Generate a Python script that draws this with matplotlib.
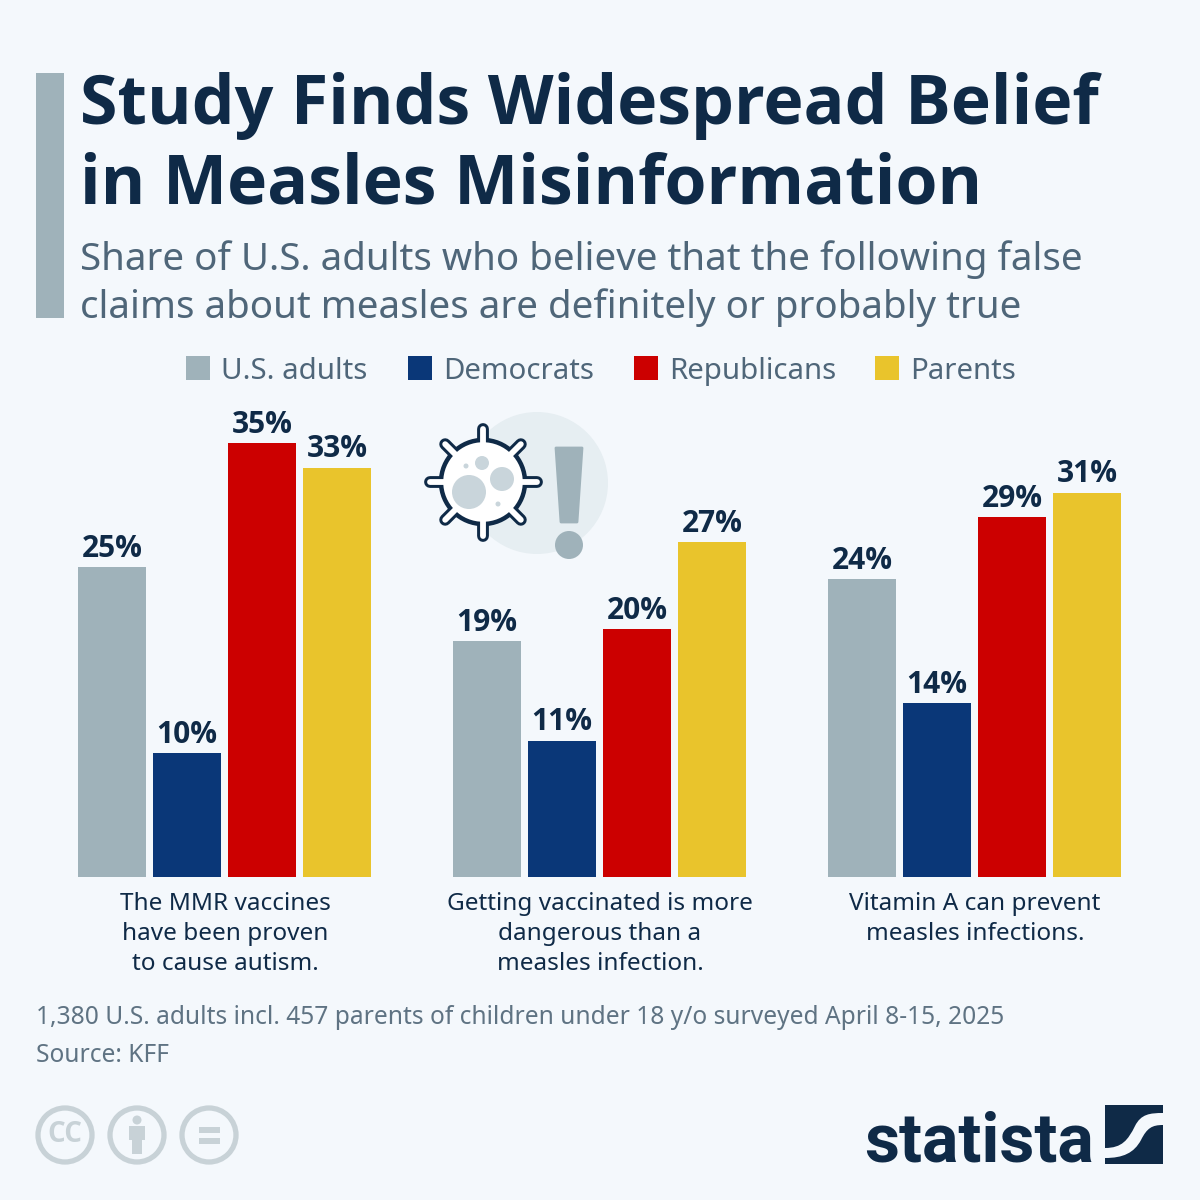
import numpy as np
import matplotlib
matplotlib.use('Agg')
import matplotlib.pyplot as plt
from matplotlib.patches import Circle, Rectangle, Polygon, PathPatch
from matplotlib.path import Path

plt.rcParams['font.family'] = ['Noto Sans', 'DejaVu Sans']

claims = ['The MMR vaccines\nhave been proven\nto cause autism.',
          'Getting vaccinated is more\ndangerous than a\nmeasles infection.',
          'Vitamin A can prevent\nmeasles infections.']
groups = ['U.S. adults', 'Democrats', 'Republicans', 'Parents']
us_adults = [25, 19, 24]
democrats = [10, 11, 14]
republicans = [35, 20, 29]
parents = [33, 27, 31]

BG = '#f4f8fc'
DARK = '#0f2a47'
SUB = '#4f6679'
NOTE = '#5f7383'
GREY = '#9fb2ba'
colors = [GREY, '#0a3778', '#cc0000', '#e9c42c']
BOLD = ['Open Sans', 'DejaVu Sans']

fig = plt.figure(figsize=(12, 12), dpi=100, facecolor=BG)

# pixel overlay for everything around the chart
bg = fig.add_axes([0, 0, 1, 1])
bg.set_xlim(0, 1200)
bg.set_ylim(1200, 0)
bg.axis('off')

bg.add_patch(Rectangle((36, 73), 28, 245, color=GREY, lw=0))
bg.text(80, 124, 'Study Finds Widespread Belief', fontsize=49, fontweight='bold', family=BOLD, color=DARK, va='baseline')
bg.text(80, 203, 'in Measles Misinformation', fontsize=49, fontweight='bold', family=BOLD, color=DARK, va='baseline')
bg.text(80, 270, 'Share of U.S. adults who believe that the following false', fontsize=27.7, color=SUB, va='baseline')
bg.text(80, 318, 'claims about measles are definitely or probably true', fontsize=27.7, color=SUB, va='baseline')

# legend
for name, col, x in zip(groups, colors, [186, 408, 634, 875]):
    bg.add_patch(Rectangle((x, 356), 24, 24, color=col, lw=0))
    bg.text(x + 35, 379, name, fontsize=21.2, color=SUB, va='baseline')

# virus icon
bg.add_patch(Circle((537, 483), 71, color='#e6eef2', lw=0))
cx, cy = 483, 482
for a in np.arange(0, 360, 45):
    dx, dy = np.cos(np.radians(a)), np.sin(np.radians(a))
    bg.plot([cx + 30 * dx, cx + 53.5 * dx], [cy + 30 * dy, cy + 53.5 * dy], color=DARK, lw=8.5,
            solid_capstyle='round', zorder=3)
bg.add_patch(Circle((cx, cy), 42, fc='white', ec=DARK, lw=3.2, zorder=4))
for a in np.arange(0, 360, 45):
    dx, dy = np.cos(np.radians(a)), np.sin(np.radians(a))
    bg.plot([cx + 30 * dx, cx + 53.5 * dx], [cy + 30 * dy, cy + 53.5 * dy], color='white', lw=4.2,
            solid_capstyle='round', zorder=5)
for x, y, r in [(469, 492, 17), (502, 479, 12), (482, 463, 7), (466, 466, 2.5), (498, 504, 2.5)]:
    bg.add_patch(Circle((x, y), r, color='#c9d5db', lw=0, zorder=6))
bg.add_patch(Polygon([(556, 448), (582, 448), (577, 522), (561, 522)], closed=True, fc=GREY, ec=GREY, lw=2, joinstyle='round'))
bg.add_patch(Circle((569, 545), 14, color=GREY, lw=0))

# bars
ax = fig.add_axes([0, (1200 - 877) / 1200, 1, 477 / 1200], facecolor='none')
ax.set_xlim(0, 1200)
ax.set_ylim(0, 477 / 12.4)
ax.axis('off')
x0 = np.array([112, 487, 862])
for i, (vals, col) in enumerate(zip([us_adults, democrats, republicans, parents], colors)):
    xs = x0 + i * 75
    ax.bar(xs, vals, width=68, color=col, lw=0)
    for x, v in zip(xs, vals):
        ax.annotate(f'{v}%', (x, v), xytext=(0, 2.5), textcoords='offset points', ha='center', va='bottom',
                    fontsize=21.5, fontweight='bold', family=BOLD, color=DARK)

for x, claim in zip([225, 600, 975], claims):
    bg.text(x, 892, claim, fontsize=17.5, color=DARK, ha='center', va='top', linespacing=1.32)

bg.text(36, 1017, '1,380 U.S. adults incl. 457 parents of children under 18 y/o surveyed April 8-15, 2025',
        fontsize=17.65, color=NOTE, va='center')
bg.text(36, 1055, 'Source: KFF', fontsize=17.65, color=NOTE, va='center')

# licence icons
ICON = '#c8d2d7'
for x in [65, 137, 209]:
    bg.add_patch(Circle((x, 1135), 27, fc='none', ec=ICON, lw=3.8))
bg.text(65, 1134, 'CC', fontsize=20, fontweight='bold', family=BOLD, color=ICON, ha='center', va='center')
bg.add_patch(Circle((137, 1120), 4.5, color=ICON, lw=0))
bg.add_patch(Polygon([(129, 1126), (145, 1126), (145, 1140), (142, 1140), (142, 1154), (132, 1154), (132, 1140), (129, 1140)],
                     closed=True, color=ICON, lw=0))
bg.add_patch(Rectangle((199, 1127), 21, 6, color=ICON, lw=0))
bg.add_patch(Rectangle((199, 1138), 21, 6, color=ICON, lw=0))

# logo
bg.text(864, 1162, 'statista', fontsize=49, fontweight='bold', family=['Roboto', 'DejaVu Sans'],
        color=DARK, va='baseline')
bg.add_patch(Rectangle((1105, 1105), 58, 59, color=DARK, lw=0))
swoosh = Path([(1105, 1148), (1122, 1148), (1128, 1140), (1135, 1126), (1141, 1114), (1150, 1113), (1163, 1113),
               (1163, 1125), (1152, 1125), (1147, 1128), (1141, 1140), (1134, 1153), (1123, 1158), (1105, 1158), (1105, 1148)],
              [Path.MOVETO, Path.CURVE4, Path.CURVE4, Path.CURVE4, Path.CURVE4, Path.CURVE4, Path.CURVE4,
               Path.LINETO, Path.CURVE4, Path.CURVE4, Path.CURVE4, Path.CURVE4, Path.CURVE4, Path.CURVE4, Path.CLOSEPOLY])
bg.add_patch(PathPatch(swoosh, fc=BG, lw=0))

fig.savefig('out.png', dpi=100, facecolor=BG)
